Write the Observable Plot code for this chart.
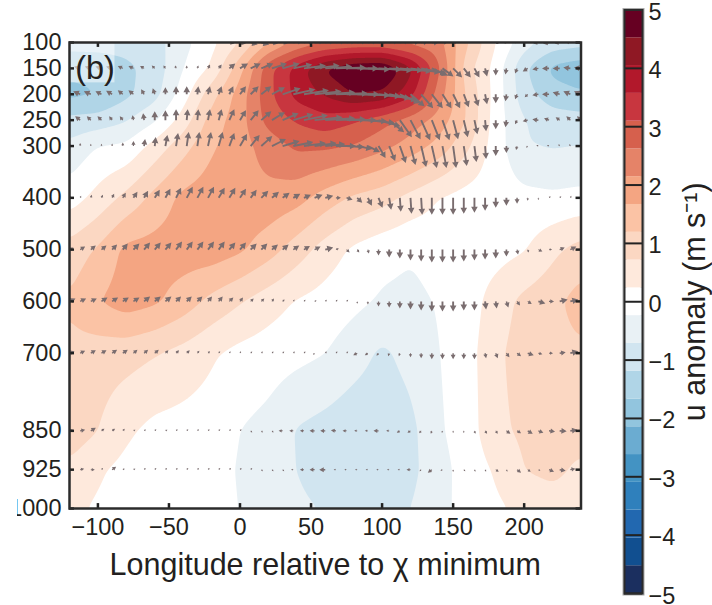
<!DOCTYPE html>
<html>
<head>
<meta charset="utf-8">
<script src="https://cdn.jsdelivr.net/npm/d3@7"></script>
<script src="https://cdn.jsdelivr.net/npm/@observablehq/plot@0.6"></script>
<style>
html,body{margin:0;padding:0;background:#fff}
#chart{position:relative;width:712px;height:605px;overflow:hidden}
#chart svg{position:absolute;left:0;top:0}
</style>
</head>
<body>
<div id="chart"></div>
<script>
// Contoured u anomaly (m/s) on pressure levels (hPa) and longitudes
const pressureLevels = [100,150,200,250,300,400,500,600,700,850,925,1000];
const fieldLons = [-120,-100,-80,-60,-40,-20,0,20,40,60,80,100,120,140,160,180,200,220,240];
const u100  = [-1.0,-1.0,-1.0,-.9,-.4,.1,.7,1.6,2.2,2.5,2.6,2.6,2.4,2.3,1.25,.24,-.5,-.9,-1.0];
const u150  = [-1.55,-1.5,-1.3,-1.0,-.24,.3,1.5,2.95,3.8,4.6,5.0,5.1,4.2,2.7,.9,.05,-1.1,-1.8,-2.0];
const u200  = [-1.8,-1.68,-1.3,-.9,0,1.0,1.9,2.95,3.75,4.1,4.55,4.45,3.75,2.4,1.1,.05,-1.0,-1.45,-1.6];
const u250  = [-1.05,-1.0,-.75,-.3,.45,1.4,1.95,2.8,3.15,3.4,3.15,2.8,2.4,1.95,1.15,0,-.7,-.95,-1.0];
const u300  = [-.6,-.23,-.15,.42,1.0,1.6,1.95,2.35,2.72,2.72,2.6,2.3,1.95,1.5,.8,0,-.68,-.75,-.7];
const u400  = [0,.4,.85,1.35,1.8,1.95,2.0,2.0,1.85,1.45,1.1,.9,.55,.23,.05,0,-.1,-.15,-.1];
const u500  = [.9,1.25,1.8,1.85,1.9,1.95,1.75,1.4,.95,.5,.15,-.08,-.18,-.05,0,.05,.2,.6,.9];
const u600  = [1.25,1.65,1.9,1.75,1.45,1.05,.75,.45,.2,.05,-.12,-.3,-.36,-.2,0,.45,.85,1.05,1.4];
const u700  = [1.05,.95,.9,.75,.55,.3,.1,0,-.1,-.23,-.5,-.8,-.55,-.25,.05,.6,.95,1.05,1.1];
const u850  = [1.0,.72,.32,.1,.05,0,-.24,-.4,-.75,-.9,-1.05,-1.05,-.85,-.3,0,.6,.8,.9,.95];
const u925  = [.6,.3,.1,0,0,-.05,-.28,-.45,-.72,-1.0,-1.05,-1.05,-.85,-.4,-.05,.3,.72,.85,.6];
const u1000 = [.35,.17,.1,0,0,-.05,-.25,-.45,-.6,-.75,-.9,-.85,-.72,-.35,-.1,.15,.35,.45,.45];
const fieldRows = [u100,u150,u200,u250,u300,u400,u500,u600,u700,u850,u925,u1000];

// Colour bands
const bandEdges = [-5,-4.524,-4.048,-3.571,-3.095,-2.619,-2.143,-1.667,-1.19,-.714,-.238,.238,.714,1.19,1.667,2.143,2.619,3.095,3.571,4.048,4.524,5];
const bandColors = ["#1b2f5f","#114f90","#2268b0","#2f80bc","#4393c3","#6bacd1","#92c5de","#b0d5e7","#d1e5f0","#e9f1f5","#ffffff","#fee9dc","#fbd7c2","#fbc3a5","#f4a582","#e58368","#d6604d","#c8363f","#b2182b","#8f1824","#660022"];

// Wind vectors on the 7.5 degree grid, one pair of arrays per level (horizontal, vertical)
const vecStart = -120, vecStep = 7.5;
const a100u  = [0,0,0,0,0,0,0,0,0,0,0,0,0,0,0,5,6,7,8,6,5,10,10,10,10,10,10,10,10,10,10,10,10,8,8,6,5,3,2,1,3,-2,-3,-3,-5,-6,-5,-5,-4];
const a100w  = [3,3,3,3,3,3,3,3,3,3,3,3,3,3,3,-1,-1,-2,-2,-1,-1,3,3,3,3,3,3,3,3,3,3,3,2,2,1,1,1,1,1,1,-1.5,-1,1,1,-1,-1,-1,1,1];
const a150u  = [-6,-6,-6,-6,-6,-5,-5,-4,-3,-2,-1,0,1,2,3,6,8,10,12,15,17,19,22,25,27,30,32,33,34,34,34,32,30,25,16,11,9,7,5,2,0,-1,-2,-5,-6,-7,-7,-7,-7];
const a150w  = [2,2,2,2,2,2.5,2.5,2.5,3,3,3,3,3,4,4,5,5,5,5,5,5,4,3,3,2,1,0,-1,-1,-2,-2,-3,-4,-5,-7,-8,-9,-9,-9,-8,-7,-6,-5,-3,-1,0,0,1,1];
const a200u  = [-7,-7,-7,-6,-6,-5,-5,-3,-2,0,0,0,1,2,3,4,6,8,10,13,18,22,25,27,30,32,33,33,33,32,28,20,14,12,11,9,7,5,4,2,0,-1,-2,-3,-6,-7,-7,-7,-7];
const a200w  = [3,3,3,3,3.5,4,4,5,6,7,8,8,8,8,8,8,8,8,8,7,6,5,4,3,2,1,0,-1,-2,-4,-6,-9,-12,-14,-14,-14,-14,-13,-12,-10,-9,-7,-5,-3,-1,0,2,3,3];
const a250u  = [-5,-5,-4,-4,-3,-3,-1,-1,0,0,0,1,1,2,3,5,6,8,10,13,16,20,24,28,30,30,30,30,27,22,15,12,10,9,8,7,5,4,3,1,0,-1,-2,-5,-6,-5,-4,-4,-4];
const a250w  = [4,4,4,4,4,4,5,7,9,10,11,11,11,11,11,11,10,10,9,8,7,6,5,3,2,1,0,-1,-3,-6,-12,-17,-19,-20,-20,-20,-19,-17,-14,-11,-9,-7,-4,-1,1,2,3,4,4];
const a300u  = [0,0,0,0,0,0,0,1,1,2,2,2,2,3,4,5,7,9,11,14,17,20,22,22,20,20,18,15,12,7,6,6,5,5,5,4,3,3,2,1,0,0,-1,-1.5,-1,-2,-1,-1,-1];
const a300w  = [3,3,2,2,2.5,3.5,5,7,9,11,13,14,14,14,14,13,12,11,10,7,5,4,3,3,2,0,-1,-3,-6,-12,-15,-17,-19,-21,-22,-22,-22,-20,-16,-13,-10,-7,-4,-1.5,.5,1,1.5,2,2];
const a400u  = [1,1,1,1.5,2,3,4,4,5,5,5,6,6,6,6,6,6,6,7,7,7,7,7,8,8,5,6,5,4,4,2,1,1,1,0,0,0,0,0,0,0,0,0,0,0,1,1,1,1];
const a400w  = [2,2,3,3,4,5,6,7,8,9,10,11,11,11,10,10,9,8,7,6,5,4,3,3,2,0,-2,-5,-8,-10,-12,-14,-16,-17,-17,-17,-17,-16,-15,-13,-10,-8,-6,-3,-1,1,1,2,2];
const a500u  = [4,5,5,5,5,5,6,6,6,6,6,6,6,6,6,6,6,6,6,6,6,6,6,6,8,3,3,2,1,0,0,0,0,0,0,0,0,0,0,0,0,0,1,1,4,3,5,6,8];
const a500w  = [2,3,4,4,5,6,6,7,7,7,8,8,8,8,8,7,7,6,6,5,5,4,3.5,3,2,1,-3,-3,-4,-6,-8,-9,-11,-12,-13,-13,-13,-12,-11,-10,-9,-7,-5,-3,-2,0,2,3,2];
const a600u  = [6,6,6,6,6,6,6,6,6,6,5,5,5,4,4,4,3,3,3,2,2,1,1,1,.5,.3,.3,0,0,0,0,0,0,0,0,0,0,0,0,1,1,2,3,4,7,5,8,8,8];
const a600w  = [3,3,3,4,4,4,4,5,5,5,5,5,5,5,5,4,4,3,3,3,2,1.5,1,.5,.5,.3,.3,-1.5,-3,-5,-6,-7,-8,-9,-10,-10,-10,-9,-9,-8,-7,-6,-4,-2.5,-2,0,2,2,2];
const a700u  = [5,5,5,5,5,5,4,4,4,3,3,3,2,2,1.5,1,.5,.5,.5,.5,.5,.5,.5,-.3,.3,.3,.3,-4,-3,-2,-1,-1,0,0,0,0,0,0,0,1,2,3,4,6,4,4,6,8,8];
const a700w  = [2,2.5,3,3,3.5,3.5,3.5,3.5,3.5,3,3,3,2.5,2,2,1.5,1,.5,.5,.5,.5,.5,.5,-.3,.3,.3,.3,-2,-2,-2.5,-3,-3,-4,-5,-6,-6,-6,-6,-6,-5,-5,-4,-3,-2,-1,0,1,2,2];
const a850u  = [4,5,5,3,3,2,2,1.5,1,1,.5,.5,.5,.5,.5,.5,.5,.7,.5,.5,-4,-4,-4,-5,-5,-5,-4,-3,-3,-5,-3,-3,-3,-2,-1,-.5,0,0,1,2,2,4,4,5,5,6,7,7,7];
const a850w  = [1,1,3,2,2,2,1,1,1,.5,.5,.5,.5,.5,.5,.5,.5,-.7,-.5,-.5,0,0,0,0,0,.5,0,0,0,0,0,-2,-2,-2.5,-3,-2,-1,-2,-3,-3,-3,-3,-2.5,-3,-2,-1,-.5,1,1];
const a925u  = [3,4,4,.5,4,2,1,.5,.5,.5,.5,.5,.5,.5,.5,.5,.5,.5,.5,.5,.5,-2,-4,-5,-6,-2,-2,-2,-2,-2,-2,-2,-4,-.5,-4,-2,0,.5,1,1,3,1,4,3,2,5,6,5,6];
const a925w  = [0,1,0,.5,3,1,.5,.5,.5,.5,.5,.5,.5,.5,.5,.5,.5,.5,-.5,-.5,-.5,0,0,0,0,0,0,0,0,0,0,0,0,-.5,-3,-1,-1,-.5,-2,-2,-2,-2,-3,-2,-1,-2,-1,1,1];
const a1000u = [1,1,.5,1,.5,.5,.5,.5,.5,.5,.5,.5,.5,.5,.5,.5,-.5,-.5,-.5,-1,-1,-1,-1,-1,-1,-1,-1,-1,-1,-1,-1,-1,-1,-1,-.5,-.5,0,.5,.5,1,1,1,1,1,1,1,1,1,1];
const a1000w = [-1,-1,-.5,-1,-.5,-.5,-.5,-.5,-.5,-.5,-.5,-.5,-.5,-.5,-.5,-.5,-.5,-.5,-.5,-1,-1,-1,-1,-1,-1,-1,-1,-1,-1,-1,-1,-1,-1,-1,-.5,-.5,-.5,-.5,-.5,-1,-1,-1,-1,-1,-1,-1,-1,-1,-1];
const vecRows = [[a100u,a100w],[a150u,a150w],[a200u,a200w],[a250u,a250w],[a300u,a300w],[a400u,a400w],[a500u,a500w],[a600u,a600w],[a700u,a700w],[a850u,a850w],[a925u,a925w],[a1000u,a1000w]];

const xTicks = [-100,-50,0,50,100,150,200];
const barTicks = [-5,-4,-3,-2,-1,0,1,2,3,4,5];
const xTitle = "Longitude relative to \u03c7 minimum";
const barTitle = "u anomaly (m s\u207b\u00b9)";
const panelTag = "(b)";

const vectors = vecRows.flatMap(([us, ws], k) => us.map((u, i) => ({
  lon: vecStart + i * vecStep,
  p: pressureLevels[k],
  len: Math.hypot(u, ws[i]),
  rot: Math.atan2(u, ws[i]) * 180 / Math.PI
})));

// bilinear lookup inside the level/longitude table, as a contour routine does
function fieldAt(lon, p) {
  const ci = Math.max(1, Math.min(fieldLons.length - 1, d3.bisectRight(fieldLons, lon)));
  const ri = Math.max(1, Math.min(pressureLevels.length - 1, d3.bisectRight(pressureLevels, p)));
  const tx = (lon - fieldLons[ci - 1]) / (fieldLons[ci] - fieldLons[ci - 1]);
  const ty = (p - pressureLevels[ri - 1]) / (pressureLevels[ri] - pressureLevels[ri - 1]);
  const a = fieldRows[ri - 1], b = fieldRows[ri];
  const top = a[ci - 1] + (a[ci] - a[ci - 1]) * tx;
  const bot = b[ci - 1] + (b[ci] - b[ci - 1]) * tx;
  return top + (bot - top) * ty;
}

// quiver-style arrow: shrinks as a whole when shorter than its head
const quiver = {
  draw(ctx, l) {
    const full = 8;
    const s = l < full ? Math.max(l / full, 0.28) : 1;
    const sw = 0.95 * s, hw = 3.3 * s, hl = 6 * s, L = Math.max(l, full * s);
    ctx.moveTo(-sw, 0);
    ctx.lineTo(-sw, -(L - hl));
    ctx.lineTo(-hw, -(L - hl));
    ctx.lineTo(0, -L);
    ctx.lineTo(hw, -(L - hl));
    ctx.lineTo(sw, -(L - hl));
    ctx.lineTo(sw, 0);
    ctx.closePath();
  }
};

const colorScale = {type: "threshold", domain: bandEdges.slice(1, -1), range: bandColors};
const ink = "#231f20";
const fontFamily = "'Liberation Sans', Arial, sans-serif";
const hTick = 3.5, vTick = 9.5;

const main = Plot.plot({
  width: 712, height: 605,
  marginLeft: 69, marginRight: 131.5, marginTop: 42, marginBottom: 97,
  style: {fontFamily, color: ink, background: "transparent", clipPath: "inset(0 0 0 17px)"},
  x: {domain: [-120, 240], label: null},
  y: {domain: [100, 1000], reverse: true, label: null},
  color: colorScale,
  length: {type: "identity"},
  marks: [
    Plot.contour({
      fill: fieldAt, x1: -120, x2: 240, y1: 100, y2: 1000,
      thresholds: bandEdges.slice(0, -1), pixelSize: 1, blur: 4, clip: true
    }),
    Plot.vector(vectors, {
      x: "lon", y: "p", length: "len", rotate: "rot", anchor: "start",
      shape: quiver, fill: "#7a6d6f", stroke: "none", clip: true
    }),
    Plot.rect([panelTag], {x1: -120, x2: -88, y1: 100, y2: 178, fill: "white", fillOpacity: 0.5}),
    Plot.text([panelTag], {x: -116, y: 150, text: d => d, textAnchor: "start", lineAnchor: "middle", fontSize: 32.5, fill: ink}),
    Plot.axisX({ticks: xTicks, tickSize: 0, tickPadding: 10, fontSize: 23.5, label: null, anchor: "bottom"}),
    Plot.axisY({ticks: pressureLevels, tickSize: 0, tickPadding: 8, fontSize: 23.5, label: null, anchor: "left", tickFormat: d => String(d)}),
    Plot.ruleX(xTicks, {x: d => d, y1: 1000, y2: 1000 - vTick, stroke: "#222", strokeWidth: 2.5}),
    Plot.ruleX(xTicks, {x: d => d, y1: 100, y2: 100 + vTick, stroke: "#222", strokeWidth: 2.5}),
    Plot.ruleY(pressureLevels, {y: d => d, x1: -120, x2: -120 + hTick, stroke: "#222", strokeWidth: 2.5}),
    Plot.ruleY(pressureLevels, {y: d => d, x1: 240, x2: 240 - hTick, stroke: "#222", strokeWidth: 2.5}),
    Plot.frame({stroke: "#2b2b2b", strokeWidth: 2.5}),
    Plot.text([xTitle], {frameAnchor: "bottom", text: d => d, dy: 57, lineAnchor: "middle", fontSize: 30.5, fill: ink})
  ]
});

const bands = bandColors.map((c, i) => ({lo: bandEdges[i], hi: bandEdges[i + 1]}));
const bar = Plot.plot({
  width: 712, height: 605,
  marginLeft: 624, marginRight: 70, marginTop: 9.5, marginBottom: 12,
  style: {fontFamily, color: ink, background: "transparent"},
  x: {domain: [0, 1], axis: null},
  y: {domain: [-5, 5], label: null},
  color: colorScale,
  marks: [
    Plot.frame({stroke: "#aaaaaa", strokeWidth: 4}),
    Plot.rect(bands, {x1: 0, x2: 1, y1: "lo", y2: "hi", fill: "lo"}),
    Plot.ruleY(barTicks, {y: d => d, stroke: "#222", strokeWidth: 2}),
    Plot.frame({stroke: "#2b2b2b", strokeWidth: 2}),
    Plot.axisY({ticks: barTicks, anchor: "right", tickSize: 0, tickPadding: 6, fontSize: 23.5, label: null, dy: 2.5}),
    Plot.text([barTitle], {frameAnchor: "right", text: d => d, textAnchor: "middle", rotate: -90, dx: 53, dy: 0, fontSize: 30.5, fill: ink})
  ]
});

document.getElementById("chart").append(main, bar);
</script>
</body>
</html>
